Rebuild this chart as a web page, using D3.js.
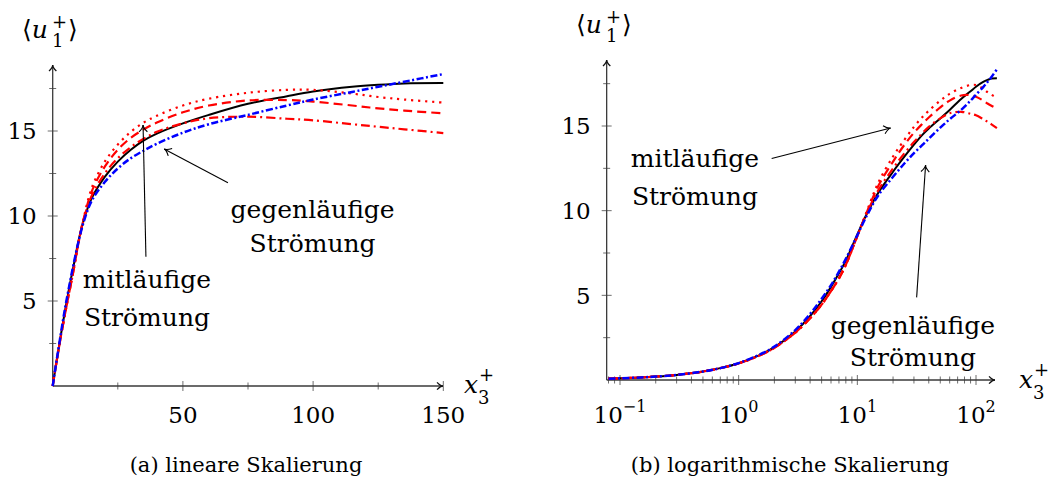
<!DOCTYPE html>
<html>
<head>
<meta charset="utf-8">
<script src="https://d3js.org/d3.v7.min.js"></script>
<style>
  body { margin: 0; background: #fff; }
  text { font-family: "DejaVu Serif", serif; fill: #000; }
</style>
</head>
<body>
<svg id="fig" width="1048" height="479"></svg>
<script>
// wall distance x3+ (shared grid) and mean velocity <u1+> per case
const xPlus      = [0, 0.08, 0.1, 0.15, 0.2, 0.3, 0.5, 0.7, 1, 1.5, 2, 3, 4, 5, 6, 7, 8, 10, 12, 15, 20, 25, 30, 35, 40, 50, 60, 75, 90, 100, 115, 125, 135, 150];
const uRef       = [0, 0.08, 0.1, 0.15, 0.2, 0.3, 0.5, 0.7, 0.99, 1.47, 1.94, 2.87, 3.78, 4.65, 5.5, 6.3, 7.05, 8.6, 9.8, 11.05, 12.3, 13.2, 13.9, 14.45, 14.85, 15.45, 15.95, 16.6, 17.05, 17.32, 17.6, 17.72, 17.8, 17.82];
const uCoDot     = [0, 0.08, 0.1, 0.15, 0.2, 0.3, 0.5, 0.7, 0.98, 1.45, 1.9, 2.8, 3.65, 4.45, 5.25, 6.0, 6.8, 8.5, 9.95, 11.65, 13.2, 14.2, 14.95, 15.5, 15.9, 16.5, 16.9, 17.25, 17.42, 17.42, 17.2, 17.0, 16.85, 16.67];
const uCoDash    = [0, 0.08, 0.1, 0.15, 0.2, 0.3, 0.5, 0.7, 0.98, 1.45, 1.9, 2.8, 3.65, 4.45, 5.25, 6.0, 6.8, 8.5, 9.9, 11.45, 12.9, 13.9, 14.6, 15.1, 15.5, 16.1, 16.5, 16.8, 16.82, 16.73, 16.5, 16.33, 16.2, 16.04];
const uCoDashDot = [0, 0.08, 0.1, 0.15, 0.2, 0.3, 0.5, 0.7, 0.98, 1.45, 1.9, 2.8, 3.65, 4.45, 5.25, 6.0, 6.8, 8.5, 9.85, 11.2, 12.5, 13.4, 14.05, 14.55, 14.95, 15.45, 15.75, 15.84, 15.72, 15.63, 15.4, 15.25, 15.1, 14.88];
const uCounter   = [0, 0.08, 0.1, 0.15, 0.2, 0.3, 0.5, 0.7, 1.0, 1.5, 1.97, 2.95, 3.9, 4.8, 5.6, 6.4, 7.15, 8.55, 9.7, 10.9, 12.0, 12.8, 13.4, 13.85, 14.25, 14.9, 15.4, 15.95, 16.5, 16.85, 17.3, 17.6, 17.9, 18.35];

const yMajor = [5, 10, 15];
const yMinor = [2.5, 7.5, 12.5, 17.5];
const xMajorLin = [50, 100, 150];
const xMinorLin = [25, 75, 125];
const xMajorLog = [0.1, 1, 10, 100];
const logExp = ["\u22121", "0", "1", "2"];

const series = [
  { u: uRef,       color: "#000",    dash: null,            w: 2.0 },
  { u: uCoDot,     color: "#ff0000", dash: "2.2 4.8",       w: 2.2 },
  { u: uCoDash,    color: "#ff0000", dash: "9 5",           w: 2.2 },
  { u: uCoDashDot, color: "#ff0000", dash: "9 4 2 4",       w: 2.2 },
  { u: uCounter,   color: "#0000ff", dash: "7 2.5 2 2.5",   w: 2.5 }
];

const svg = d3.select("#fig");

function arrowHead(g, x1, y1, x2, y2, size, color, width) {
  const a = Math.atan2(y2 - y1, x2 - x1);
  const s = 0.55;
  g.append("path")
    .attr("d", "M" + (x2 - size * Math.cos(a - s)) + "," + (y2 - size * Math.sin(a - s)) +
               " Q" + (x2 - size * 0.35 * Math.cos(a)) + "," + (y2 - size * 0.35 * Math.sin(a)) + " " + x2 + "," + y2 +
               " Q" + (x2 - size * 0.35 * Math.cos(a)) + "," + (y2 - size * 0.35 * Math.sin(a)) + " " +
               (x2 - size * Math.cos(a + s)) + "," + (y2 - size * Math.sin(a + s)))
    .attr("fill", "none").attr("stroke", color).attr("stroke-width", width);
}

function annotArrow(g, x1, y1, x2, y2) {
  g.append("line").attr("x1", x1).attr("y1", y1).attr("x2", x2).attr("y2", y2)
    .attr("stroke", "#000").attr("stroke-width", 1.1);
  arrowHead(g, x1, y1, x2, y2, 8, "#000", 1.1);
}

function twoLines(g, cx, y, gap, l1, l2) {
  g.append("text").attr("x", cx).attr("y", y).attr("text-anchor", "middle")
    .style("font-size", "25px").text(l1);
  g.append("text").attr("x", cx).attr("y", y + gap).attr("text-anchor", "middle")
    .style("font-size", "25px").text(l2);
}

function yLabel(g, x, y) {
  const t = g.append("text").attr("x", x).attr("y", y).style("font-size", "25px");
  t.append("tspan").text("\u27E8");
  t.append("tspan").style("font-style", "italic").text("u");
  g.append("text").attr("x", x + 30).attr("y", y - 10).style("font-size", "18px").text("+");
  g.append("text").attr("x", x + 30).attr("y", y + 9).style("font-size", "18px").text("1");
  g.append("text").attr("x", x + 46).attr("y", y).style("font-size", "25px").text("\u27E9");
}

function xLabel(g, x, y) {
  g.append("text").attr("x", x).attr("y", y).style("font-size", "25px")
    .style("font-style", "italic").text("x");
  g.append("text").attr("x", x + 15).attr("y", y - 12).style("font-size", "18px").text("+");
  g.append("text").attr("x", x + 14).attr("y", y + 11).style("font-size", "18px").text("3");
}

function drawAxes(g, xs, ys, x0, xEnd, yTop, xMaj, xMin) {
  const y0 = ys(0);
  const tick = (x1, y1, x2, y2) => g.append("line")
    .attr("x1", x1).attr("y1", y1).attr("x2", x2).attr("y2", y2)
    .attr("stroke", "#6e6e6e").attr("stroke-width", 1);
  xMin.forEach(v => tick(xs(v), y0 - 3.5, xs(v), y0 + 3.5));
  xMaj.forEach(v => tick(xs(v), y0 - 5, xs(v), y0 + 5));
  yMinor.forEach(v => tick(x0 - 3.5, ys(v), x0 + 3.5, ys(v)));
  yMajor.forEach(v => tick(x0 - 5, ys(v), x0 + 5, ys(v)));
  g.append("line").attr("x1", x0).attr("y1", y0).attr("x2", xEnd).attr("y2", y0)
    .attr("stroke", "#3a3a3a").attr("stroke-width", 1.3);
  g.append("line").attr("x1", x0).attr("y1", y0).attr("x2", x0).attr("y2", yTop)
    .attr("stroke", "#3a3a3a").attr("stroke-width", 1.3);
  arrowHead(g, x0, y0, xEnd, y0, 7, "#111", 1.3);
  arrowHead(g, x0, y0, x0, yTop, 7, "#111", 1.3);
  yMajor.forEach(v => g.append("text")
    .attr("x", x0 - 16).attr("y", ys(v)).attr("dy", "0.36em")
    .attr("text-anchor", "end").style("font-size", "23px").text(v));
}

function drawCurves(g, xs, ys, logScale) {
  series.forEach(s => {
    const pts = xPlus.map((x, i) => [x, s.u[i]]).filter(d => !logScale || d[0] > 0);
    const line = d3.line().x(d => xs(d[0])).y(d => ys(d[1])).curve(d3.curveCatmullRom.alpha(0.5));
    g.append("path").datum(pts).attr("d", line)
      .attr("fill", "none").attr("stroke", s.color).attr("stroke-width", s.w)
      .attr("stroke-dasharray", s.dash).attr("stroke-linejoin", "round");
  });
}

// ---- (a) linear scaling
const ga = svg.append("g");
const xa = d3.scaleLinear().domain([0, 150]).range([52.7, 443.3]);
const ya = d3.scaleLinear().domain([0, 15]).range([386, 131]);
drawAxes(ga, xa, ya, xa(0), 443, 65, xMajorLin, xMinorLin);
xMajorLin.forEach(v => ga.append("text").attr("x", xa(v)).attr("y", 423)
  .attr("text-anchor", "middle").style("font-size", "23px").text(v));
drawCurves(ga, xa, ya, false);
yLabel(ga, 22, 38);
xLabel(ga, 464, 393);
annotArrow(ga, xa(35.8), ya(7.6), xa(34.7), ya(15.35));
annotArrow(ga, xa(67.3), ya(11.96), xa(42.8), ya(13.94));
twoLines(ga, xa(36.2), ya(5.76), 38, "mitläufige", "Strömung");
twoLines(ga, xa(99.8), ya(9.88), 34, "gegenläufige", "Strömung");
ga.append("text").attr("x", 246).attr("y", 472).attr("text-anchor", "middle")
  .style("font-size", "21px").text("(a) lineare Skalierung");

// ---- (b) logarithmic scaling
const gb = svg.append("g");
const xb = d3.scaleLog().domain([0.1, 100]).range([620, 976]);
const yb = d3.scaleLinear().domain([0, 15]).range([380, 126]);
const xMinorLog = [];
[-2, -1, 0, 1, 2].forEach(k => d3.range(2, 10).forEach(m => {
  const v = m * Math.pow(10, k);
  if (v > 0.078 && v < 150) xMinorLog.push(v);
}));
drawAxes(gb, xb, yb, xb(0.0772), 995, 60, xMajorLog, xMinorLog);
xMajorLog.forEach((v, i) => {
  const t = gb.append("text").attr("x", xb(v)).attr("y", 423)
    .attr("text-anchor", "middle").style("font-size", "23px");
  t.append("tspan").text("10");
  t.append("tspan").attr("dy", -11).style("font-size", "16px").text(logExp[i]);
});
drawCurves(gb, xb, yb, true);
yLabel(gb, 576, 33);
xLabel(gb, 1019, 388);
annotArrow(gb, xb(1.897), yb(13.08), xb(19.09), yb(14.88));
annotArrow(gb, xb(31.6), yb(4.88), xb(37.6), yb(12.7));
twoLines(gb, xb(0.428), yb(12.6), 38, "mitläufige", "Strömung");
twoLines(gb, xb(29.4), yb(2.69), 32, "gegenläufige", "Strömung");
gb.append("text").attr("x", 790).attr("y", 472).attr("text-anchor", "middle")
  .style("font-size", "21px").text("(b) logarithmische Skalierung");
</script>
</body>
</html>
